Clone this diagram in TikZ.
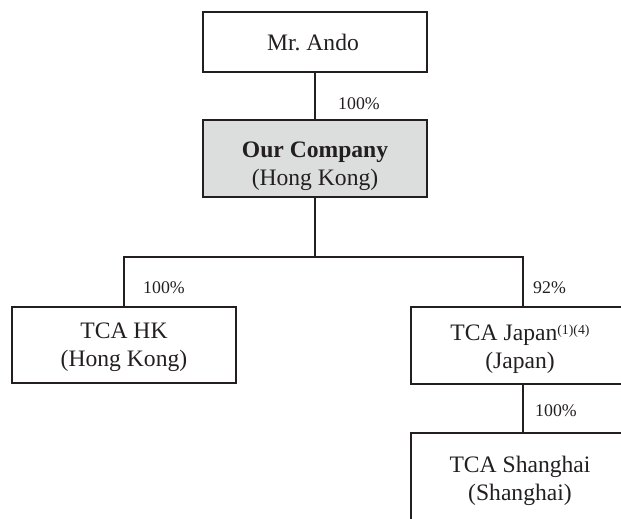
\documentclass[tikz,border=0pt]{standalone}
\usepackage{fontspec}
\setmainfont{Liberation Serif}
\definecolor{ink}{HTML}{231F20}
\definecolor{boxgray}{HTML}{DCDDDD}
\begin{document}
\begin{tikzpicture}[x=1pt,y=-1pt,
  entity/.style={draw=ink,line width=1.2pt,minimum width=224pt,inner sep=0pt},
  txt/.style={anchor=base,inner sep=0pt,align=center,text=ink,font=\fontsize{23.6}{28.5}\selectfont},
  pct/.style={anchor=base west,inner sep=0pt,text=ink,font=\fontsize{17.8}{20}\selectfont},
  conn/.style={draw=ink,line width=1.2pt}]
\useasboundingbox (0,0) rectangle (621,519);
\clip (0,0) rectangle (621,519);
\node[entity,minimum height=60pt] (ando) at (315,42) {};
\node[entity,minimum height=77pt,fill=boxgray] (our) at (315,158.5) {};
\node[entity,minimum height=76pt] (hk) at (124,345) {};
\node[entity,minimum height=77pt] (jp) at (523,345.5) {};
\node[entity,minimum height=100pt] (sh) at (523,483) {};
\node[txt] (andot) at (313,51) {Mr.\ Ando};
\node[txt] (ourt) at (315,185.5) {\textbf{Our Company}\\(Hong Kong)};
\node[txt] (hkt) at (124,366.5) {TCA HK\\(Hong Kong)};
\node[txt] (jpt) at (520,368.5) {TCA Japan\raisebox{6pt}{\fontsize{13.8}{14}\selectfont(1)(4)}\\(Japan)};
\node[txt] (sht) at (520,500.5) {TCA Shanghai\\(Shanghai)};
\coordinate (j) at (315,257);
\draw[conn] (ando) -- (our);
\draw[conn] (our) -- (j);
\draw[conn] (hk.north) |- (j) -| (jp.north);
\draw[conn] (jp) -- (sh);
\node[pct] (p1) at (338,109) {100\%};
\node[pct] (p2) at (143,293) {100\%};
\node[pct] (p3) at (533,293) {92\%};
\node[pct] (p4) at (535,416) {100\%};
\end{tikzpicture}
\end{document}
